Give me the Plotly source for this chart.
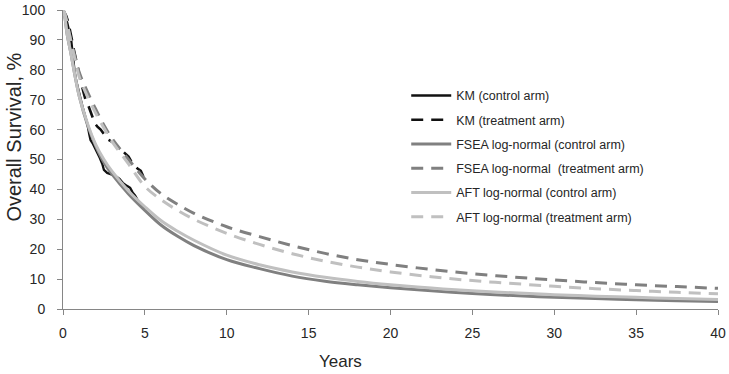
import plotly.graph_objects as go

# ---- data ----
km_control_years = [0, 0.15, 0.25, 0.35, 0.42, 0.5, 0.55, 0.6, 0.65, 0.72, 0.8, 0.9, 1.0, 1.1, 1.2,
                    1.3, 1.4, 1.5, 1.6, 1.68, 1.8, 1.95, 2.1, 2.25, 2.4, 2.5, 2.7, 2.95, 3.2, 3.45,
                    3.65, 3.9, 4.1, 4.25, 4.4, 4.55, 4.7, 4.85, 5.0]
km_control_surv = [100, 98, 96, 94, 92, 90, 87, 84, 82, 79, 76.5, 74, 72, 70, 67.5,
                   65.5, 63.5, 61.5, 58.5, 56.5, 55.5, 54, 52.5, 50.5, 48.5, 46.5, 45.5, 45, 44.5, 43.5,
                   42.2, 41.2, 40.5, 39, 38, 36.5, 35.5, 34.3, 33.3]

km_treat_years = [0, 0.2, 0.32, 0.45, 0.53, 0.65, 0.8, 0.95, 1.1, 1.25, 1.4, 1.55, 1.7, 1.8, 1.95,
                  2.1, 2.3, 2.5, 2.65, 2.9, 3.1, 3.3, 3.5, 3.75, 4.0, 4.15, 4.3, 4.55, 4.75, 4.85,
                  4.95, 5.05]
km_treat_surv = [100, 98, 96, 93, 90.5, 87, 83, 79.5, 76, 72.5, 69.5, 68, 65.5, 64, 62,
                 61, 60, 58.5, 57, 56.2, 55.6, 54.5, 53.5, 52.2, 51, 49.5, 48.3, 47, 46.2, 45,
                 43.5, 42.2]

model_years = [0, 0.1, 0.25, 0.5, 0.75, 1, 1.5, 2, 2.5, 3, 4, 5, 6, 7, 8, 10, 12, 14, 16, 18,
               20, 22.5, 25, 27.5, 30, 32.5, 35, 37.5, 40]
fsea_control = [100, 98, 92, 85, 77.5, 71, 61.5, 54.5, 49, 45, 38.5, 33, 28, 24.3, 21.2, 16.5,
                13.5, 11, 9.3, 8.1, 7.1, 6.1, 5.2, 4.5, 3.9, 3.5, 3.1, 2.8, 2.5]
fsea_treat = [100, 99, 95.5, 89.5, 84, 79, 72.5, 66.8, 61.5, 57, 50, 43.5, 38.5, 35, 32, 27.5,
              24.2, 21.2, 18.6, 16.5, 14.9, 13.2, 11.8, 10.7, 9.7, 8.85, 8.1, 7.5, 6.9]
aft_control = [100, 98, 92, 85, 77.5, 71, 62, 55, 50, 46, 39.5, 34.2, 29.5, 26, 23, 18,
               14.8, 12.4, 10.6, 9.2, 8.1, 7.0, 6.1, 5.4, 4.8, 4.3, 3.9, 3.5, 3.2]
aft_treat = [100, 99, 95.5, 89, 83, 77.5, 71, 65.5, 60.5, 56, 48.5, 41, 36.5, 33, 30, 25.3,
             21.6, 18.5, 16, 14, 12.4, 10.8, 9.5, 8.5, 7.6, 6.8, 6.15, 5.6, 5.1]

x_ticks = [0, 5, 10, 15, 20, 25, 30, 35, 40]
y_ticks = [0, 10, 20, 30, 40, 50, 60, 70, 80, 90, 100]

BLACK = "#111111"
DARK = "#808080"
LIGHT = "#c0c0c0"
DASH = "12px,8px"

series = [
    ("KM (control arm)", km_control_years, km_control_surv, BLACK, "solid", 2.3, "linear"),
    ("KM (treatment arm)", km_treat_years, km_treat_surv, BLACK, DASH, 2.6, "linear"),
    ("FSEA log-normal (control arm)", model_years, fsea_control, DARK, "solid", 3, "spline"),
    ("FSEA log-normal  (treatment arm)", model_years, fsea_treat, DARK, DASH, 3, "spline"),
    ("AFT log-normal (control arm)", model_years, aft_control, LIGHT, "solid", 3, "spline"),
    ("AFT log-normal (treatment arm)", model_years, aft_treat, LIGHT, DASH, 3, "spline"),
]

fig = go.Figure()
for i, (name, xs, ys, col, dash, w, shape) in enumerate(series):
    fig.add_trace(go.Scatter(
        x=xs, y=ys, mode="lines", name=name, legendgroup=f"g{i}",
        line=dict(color=col, dash=dash, width=w, shape=shape),
    ))

AX = "#868686"
TXT = "#262626"
FONT = "Liberation Sans, Arial, sans-serif"

fig.update_layout(
    width=729, height=374, autosize=False,
    margin=dict(l=63, r=11, t=10, b=65, pad=0, autoexpand=False),
    paper_bgcolor="white", plot_bgcolor="white",
    font=dict(family=FONT, color=TXT, size=14),
    showlegend=True,
    legend=dict(
        x=0.524, y=0.763, xanchor="left", yanchor="top",
        font=dict(size=12.5, color=TXT, family=FONT),
        traceorder="grouped", tracegroupgap=5,
        bgcolor="rgba(0,0,0,0)", itemwidth=40,
    ),
    xaxis=dict(
        range=[0, 40], tickvals=x_ticks, ticktext=[str(v) for v in x_ticks],
        showline=True, linecolor=AX, linewidth=1, ticks="outside", ticklen=5,
        tickcolor=AX, showgrid=False, zeroline=False, ticklabelstandoff=6,
        tickfont=dict(size=14, color=TXT), automargin=False,
    ),
    yaxis=dict(
        range=[0, 100], tickvals=y_ticks, ticktext=[str(v) for v in y_ticks],
        showline=True, linecolor=AX, linewidth=1, ticks="outside", ticklen=5,
        tickcolor=AX, showgrid=False, zeroline=False, ticklabelstandoff=9,
        tickfont=dict(size=14, color=TXT), automargin=False,
    ),
    annotations=[
        dict(text="Years", xref="paper", yref="paper", x=0.423, y=-0.174,
             xanchor="center", yanchor="middle", showarrow=False,
             font=dict(size=17, color=TXT, family=FONT)),
        dict(text="Overall Survival, %", xref="paper", yref="paper", x=-0.074, y=0.575,
             xanchor="center", yanchor="middle", showarrow=False, textangle=-90,
             font=dict(size=20, color=TXT, family=FONT)),
    ],
)

fig.write_html("out.html", config={"displayModeBar": False},
               post_script="document.body.style.margin='0px';document.body.style.padding='0px';")
